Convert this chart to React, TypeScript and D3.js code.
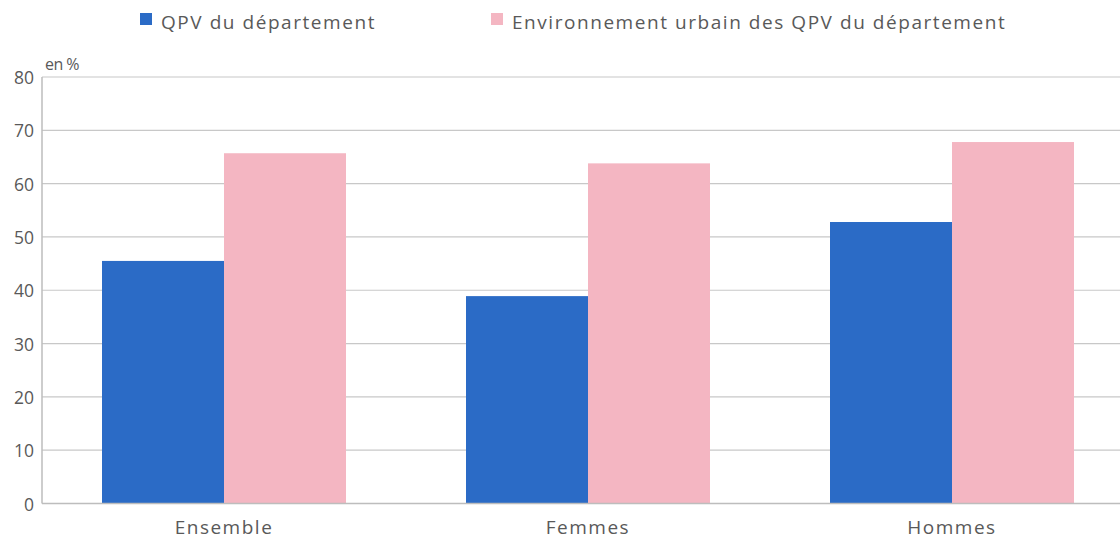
import React, { useEffect, useRef } from "react";
import * as d3 from "d3";

const categories = ["Ensemble", "Femmes", "Hommes"];
const seriesNames = ["QPV du département", "Environnement urbain des QPV du département"];
const qpv = [45.5, 38.9, 52.8];
const environnement = [65.7, 63.8, 67.8];
const yTicks = [0, 10, 20, 30, 40, 50, 60, 70, 80];
const colors = ["#2b6bc6", "#f4b6c2"];

const App = () => {
  const ref = useRef<SVGSVGElement>(null);

  useEffect(() => {
    document.body.style.margin = "0";
    const svg = d3.select(ref.current);
    svg.selectAll("*").remove();

    const width = 1120;
    const font = "'Open Sans', 'Noto Sans', sans-serif";
    const textColor = "#595959";

    const x0 = d3.scaleBand().domain(categories).range([42, 1134]).paddingInner(0).paddingOuter(0);
    const x1 = d3
      .scaleBand()
      .domain(seriesNames)
      .range([0, x0.bandwidth()])
      .paddingInner(0)
      .paddingOuter(60 / 122);
    const y = d3.scaleLinear().domain([0, 80]).range([503.5, 77]);

    // gridlines
    svg
      .append("g")
      .selectAll("line")
      .data(yTicks.filter((t) => t > 0))
      .enter()
      .append("line")
      .attr("x1", 42)
      .attr("x2", width)
      .attr("y1", (d) => y(d))
      .attr("y2", (d) => y(d))
      .attr("stroke", "#c8c8c8")
      .attr("stroke-width", 1.2);

    // tick labels
    svg
      .append("g")
      .selectAll("text")
      .data(yTicks)
      .enter()
      .append("text")
      .attr("x", 34)
      .attr("y", (d) => y(d) + 7)
      .attr("text-anchor", "end")
      .attr("font-family", font)
      .attr("font-size", 17.5)
      .attr("fill", textColor)
      .text((d) => d);

    svg
      .append("text")
      .attr("x", 45)
      .attr("y", 70)
      .attr("font-family", font)
      .attr("font-size", 16)
      .attr("letter-spacing", -0.6)
      .attr("fill", textColor)
      .text("en %");

    // bars
    const rows = categories.map((c, i) => ({ category: c, values: [qpv[i], environnement[i]] }));
    const groups = svg
      .append("g")
      .selectAll("g")
      .data(rows)
      .enter()
      .append("g")
      .attr("transform", (d) => `translate(${x0(d.category)},0)`);
    groups
      .selectAll("rect")
      .data((d) => d.values.map((v, j) => ({ name: seriesNames[j], value: v, j })))
      .enter()
      .append("rect")
      .attr("x", (d) => x1(d.name)!)
      .attr("width", x1.bandwidth())
      .attr("y", (d) => y(d.value))
      .attr("height", (d) => y(0) - y(d.value))
      .attr("fill", (d) => colors[d.j]);

    // axes lines
    svg
      .append("line")
      .attr("x1", 42)
      .attr("x2", 42)
      .attr("y1", y(80))
      .attr("y2", y(0))
      .attr("stroke", "#bdbdbd")
      .attr("stroke-width", 1.5);
    svg
      .append("line")
      .attr("x1", 42)
      .attr("x2", width)
      .attr("y1", y(0))
      .attr("y2", y(0))
      .attr("stroke", "#bdbdbd")
      .attr("stroke-width", 1.5);

    // category labels
    svg
      .append("g")
      .selectAll("text")
      .data(categories)
      .enter()
      .append("text")
      .attr("x", (d) => x0(d)! + x0.bandwidth() / 2)
      .attr("y", 534)
      .attr("text-anchor", "middle")
      .attr("font-family", font)
      .attr("font-size", 19)
      .attr("letter-spacing", 1.5)
      .attr("fill", textColor)
      .text((d) => d);

    // legend
    const legendX = [140, 491];
    const legend = svg
      .append("g")
      .selectAll("g")
      .data(seriesNames)
      .enter()
      .append("g")
      .attr("transform", (d, i) => `translate(${legendX[i]},13)`);
    legend
      .append("rect")
      .attr("width", 12)
      .attr("height", 12)
      .attr("fill", (d, i) => colors[i]);
    legend
      .append("text")
      .attr("x", 21)
      .attr("y", 15.5)
      .attr("font-family", font)
      .attr("font-size", 19)
      .attr("letter-spacing", 1.55)
      .attr("fill", textColor)
      .text((d) => d);
  }, []);

  return <svg ref={ref} width={1120} height={540} style={{ display: "block" }}></svg>;
};

export default App;
